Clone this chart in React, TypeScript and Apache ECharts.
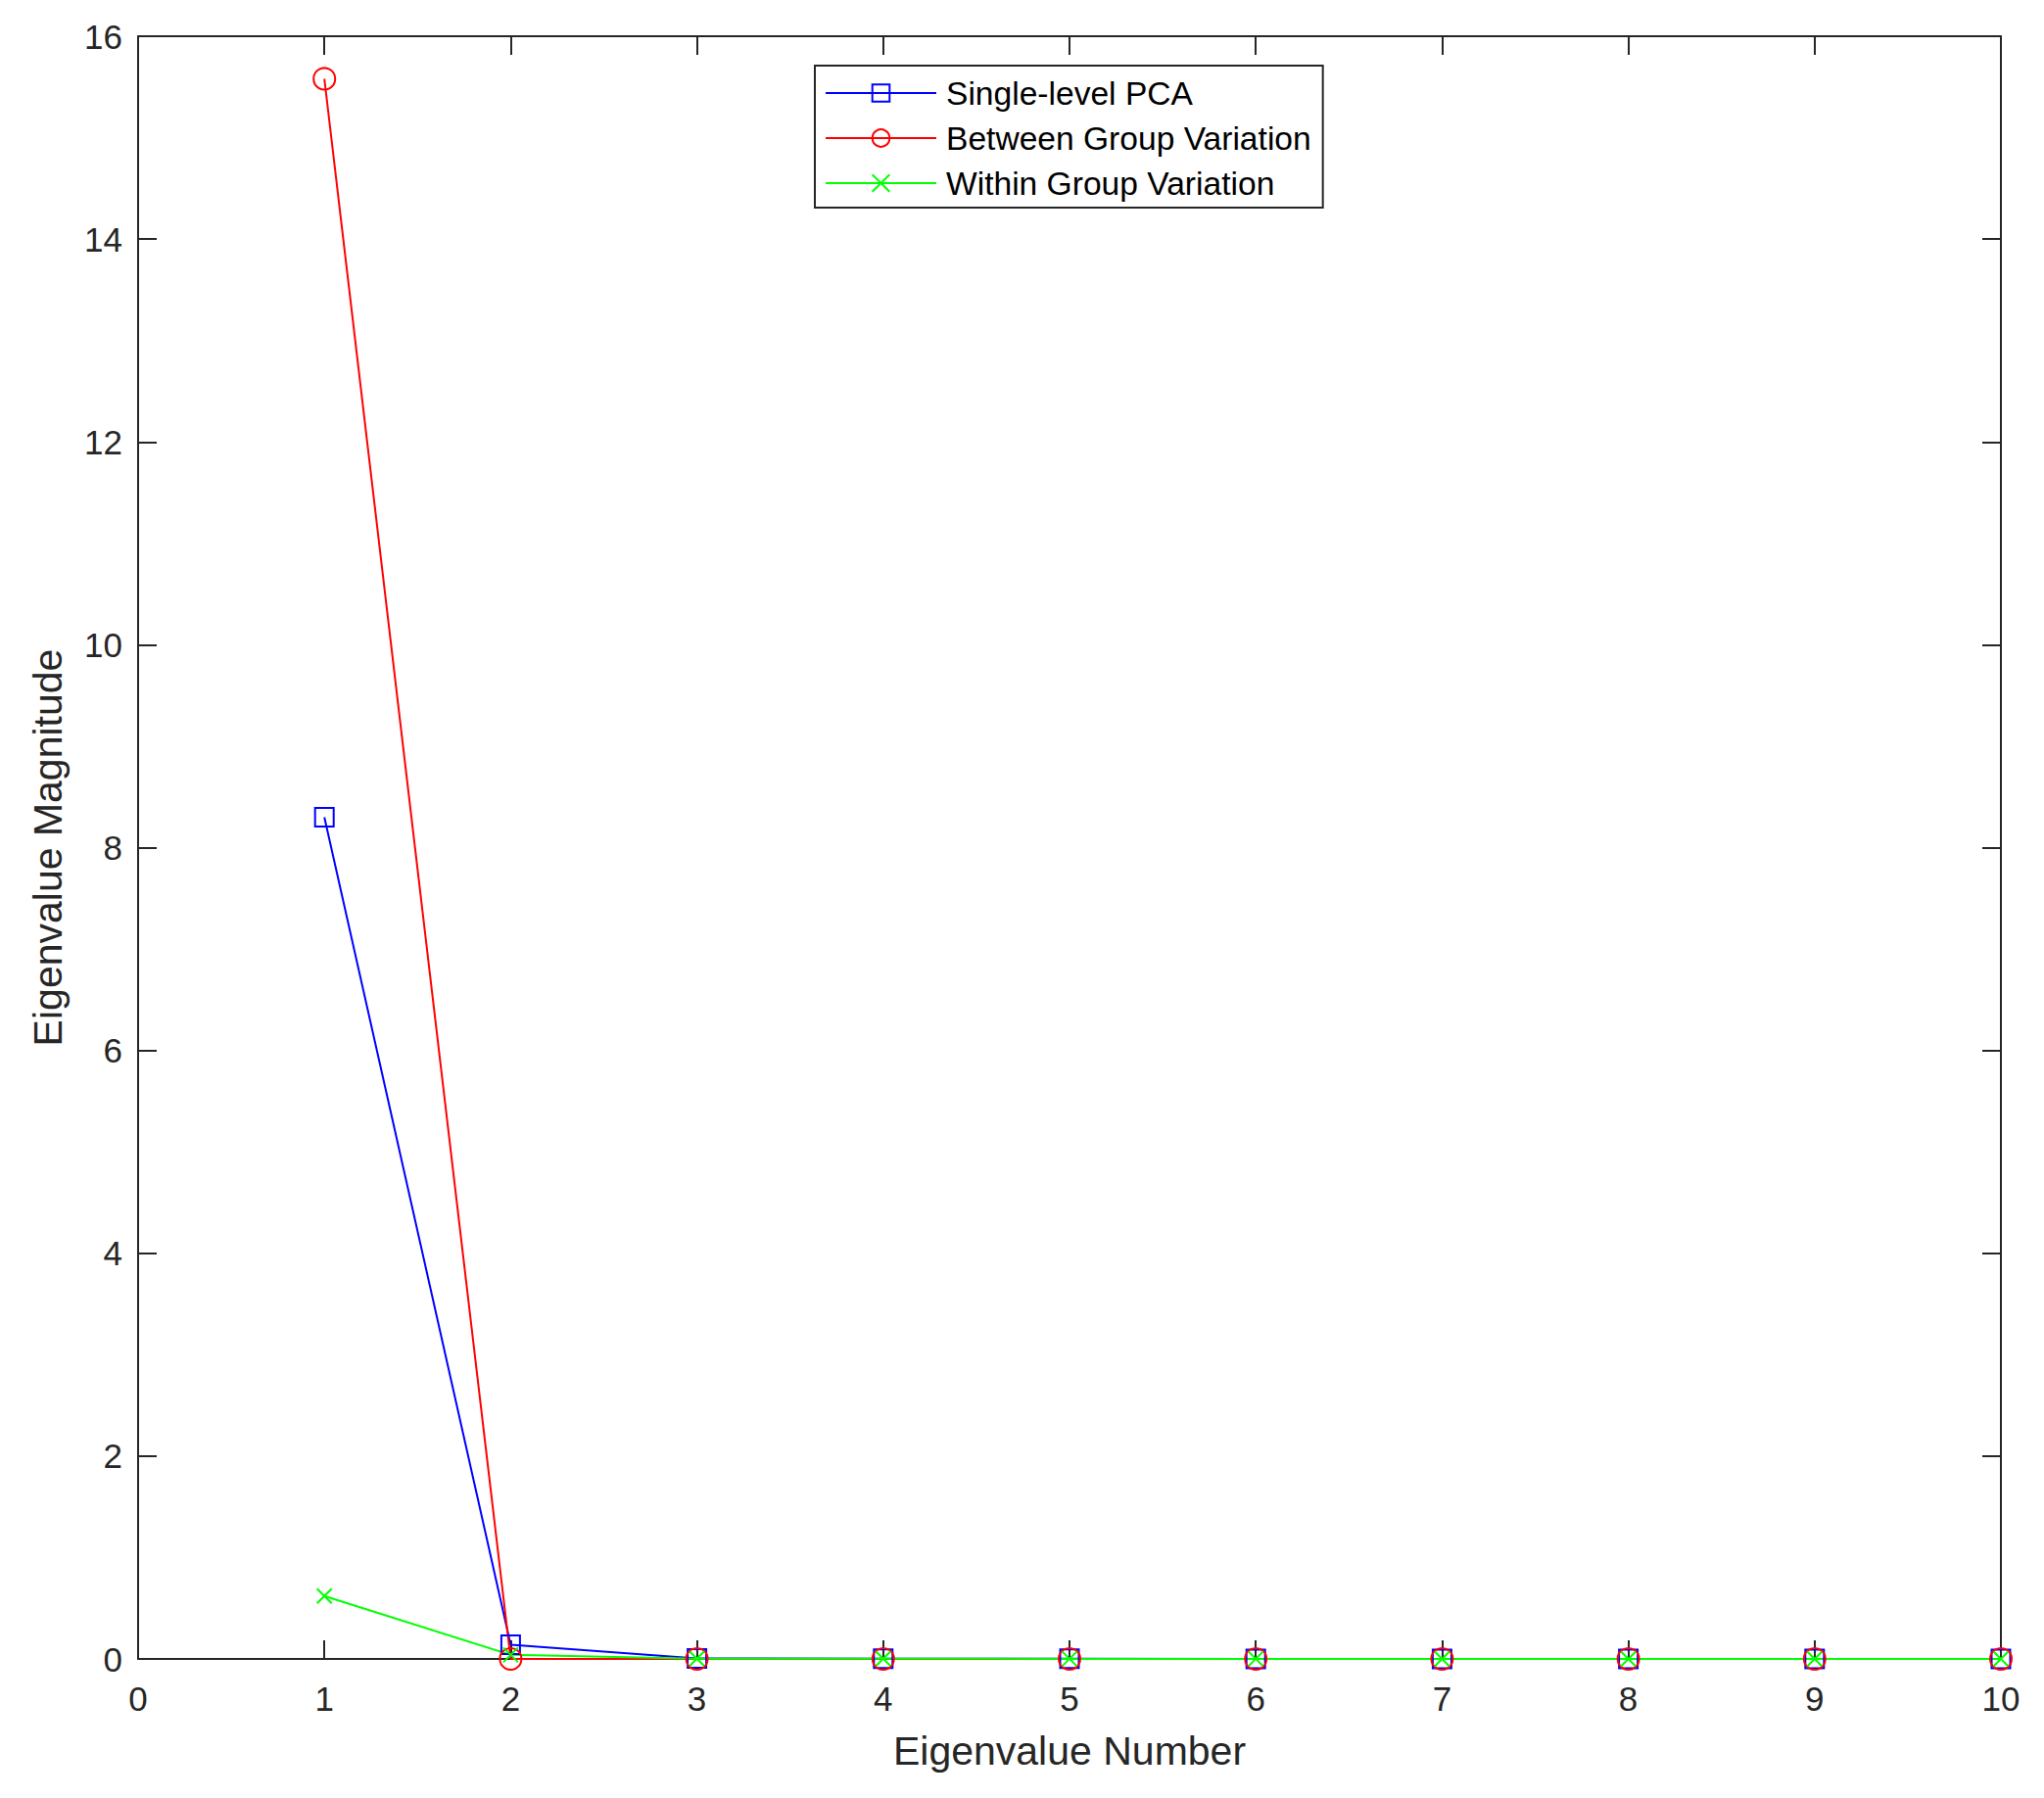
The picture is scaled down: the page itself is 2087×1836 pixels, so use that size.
import React, { useEffect, useRef } from "react";
import * as echarts from "echarts";

const eigenNumbers = [1, 2, 3, 4, 5, 6, 7, 8, 9, 10];
const singleLevelPCA = [8.3, 0.14, 0.005, 0.003, 0.002, 0.001, 0.001, 0.0, 0.0, 0.0];
const betweenGroup = [15.58, 0.0, 0.0, 0.0, 0.0, 0.0, 0.0, 0.0, 0.0, 0.0];
const withinGroup = [0.62, 0.04, 0.003, 0.002, 0.001, 0.001, 0.0, 0.0, 0.0, 0.0];
const seriesNames = ["Single-level PCA", "Between Group Variation", "Within Group Variation"];
const xTicks = { min: 0, max: 10, interval: 1 };
const yTicks = { min: 0, max: 16, interval: 2 };

const FONT = "'Liberation Sans', Arial, Helvetica, sans-serif";
const AX = "#262626";

function pairs(vals: number[]) {
  return eigenNumbers.map((x, i) => [x, vals[i]]);
}

export default function App() {
  const ref = useRef<HTMLDivElement>(null);
  useEffect(() => {
    if (!ref.current) return;
    const chart = echarts.init(ref.current, undefined, { renderer: "svg" });
    const axisCommon = {
      axisLine: { show: true, onZero: false, lineStyle: { color: AX, width: 2 } },
      axisTick: { show: true, inside: true, length: 19, lineStyle: { color: AX, width: 2 } },
      splitLine: { show: false },
    };
    const mk = (name: string, vals: number[], color: string, symbol: string, size: number) => ({
      type: "line",
      name,
      data: pairs(vals),
      clip: false,
      symbol,
      symbolSize: size,
      showAllSymbol: true,
      lineStyle: { color, width: 2 },
      itemStyle: { color: "rgba(255,255,255,0)", borderColor: color, borderWidth: 2 },
      emphasis: { disabled: true },
    });
    chart.setOption({
      animation: false,
      backgroundColor: "#ffffff",
      textStyle: { fontFamily: FONT },
      grid: { left: 141, right: 44, top: 37, bottom: 142 },
      legend: {
        orient: "vertical",
        left: 832,
        top: 67,
        padding: [11, 12, 8, 10],
        itemWidth: 113,
        itemHeight: 22,
        itemGap: 12,
        backgroundColor: "#ffffff",
        borderColor: AX,
        borderWidth: 2,
        borderRadius: 0,
        textStyle: { fontFamily: FONT, fontSize: 33.6, color: "#000000", padding: [0, 0, 0, 5] },
        data: seriesNames,
      },
      xAxis: [
        {
          type: "value",
          position: "bottom",
          ...xTicks,
          name: "Eigenvalue Number",
          nameLocation: "middle",
          nameGap: 73,
          nameTextStyle: { fontFamily: FONT, fontSize: 41, color: AX },
          axisLabel: { fontFamily: FONT, fontSize: 35, color: AX, margin: 23 },
          ...axisCommon,
        },
        {
          type: "value",
          position: "top",
          ...xTicks,
          axisLabel: { show: false },
          ...axisCommon,
        },
      ],
      yAxis: [
        {
          type: "value",
          position: "left",
          ...yTicks,
          name: "Eigenvalue Magnitude",
          nameLocation: "middle",
          nameGap: 72,
          nameRotate: 90,
          nameTextStyle: { fontFamily: FONT, fontSize: 41, color: AX },
          axisLabel: { fontFamily: FONT, fontSize: 35, color: AX, margin: 16 },
          ...axisCommon,
        },
        {
          type: "value",
          position: "right",
          ...yTicks,
          axisLabel: { show: false },
          ...axisCommon,
        },
      ],
      series: [
        mk(seriesNames[0], singleLevelPCA, "#0000ff", "rect", 19),
        mk(seriesNames[1], betweenGroup, "#ff0000", "circle", 22),
        mk(seriesNames[2], withinGroup, "#00ff00", "path://M0,0L10,10M10,0L0,10", 15),
      ],
    });
    return () => chart.dispose();
  }, []);
  return (
    <div
      ref={ref}
      style={{ position: "absolute", left: 0, top: 0, width: 2087, height: 1836, background: "#fff" }}
    />
  );
}
